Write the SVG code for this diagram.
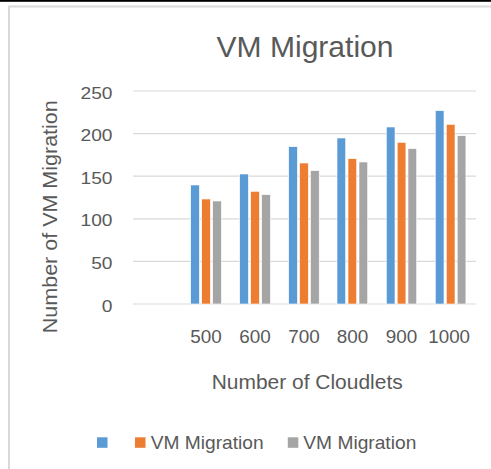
<svg xmlns="http://www.w3.org/2000/svg" width="491" height="469" viewBox="0 0 491 469">
<style>
text{font-family:"Liberation Sans",Arial,sans-serif;fill:#595959}
.grid{stroke:#D9D9D9;stroke-width:1.2}
.b{fill:#5B9BD5;stroke:#fff;stroke-width:0.6}
.o{fill:#ED7D31;stroke:#fff;stroke-width:0.6}
.g{fill:#A5A5A5;stroke:#fff;stroke-width:0.6}
.tick{font-size:16px;text-anchor:end}
.cat{font-size:18px;text-anchor:middle}
</style>
<rect x="0" y="0" width="491" height="469" fill="#fff"/>
<rect x="0" y="0" width="491" height="1.8" fill="#000"/>
<path d="M9 469V6.5H491" fill="none" stroke="#D9D9D9" stroke-width="2"/>
<text x="305" y="57" font-size="30" text-anchor="middle" textLength="177" lengthAdjust="spacingAndGlyphs">VM Migration</text>
<g id="gridlines">
<line class="grid" x1="133" y1="91" x2="476" y2="91"/>
<line class="grid" x1="133" y1="133.6" x2="476" y2="133.6"/>
<line class="grid" x1="133" y1="176.2" x2="476" y2="176.2"/>
<line class="grid" x1="133" y1="218.8" x2="476" y2="218.8"/>
<line class="grid" x1="133" y1="261.4" x2="476" y2="261.4"/>
<line class="grid" x1="133" y1="304" x2="476" y2="304"/>
</g>
<g id="y-ticks">
<text class="tick" x="112.5" y="98.5" textLength="32" lengthAdjust="spacingAndGlyphs">250</text>
<text class="tick" x="112.5" y="141.1" textLength="32" lengthAdjust="spacingAndGlyphs">200</text>
<text class="tick" x="112.5" y="183.7" textLength="32" lengthAdjust="spacingAndGlyphs">150</text>
<text class="tick" x="112.5" y="226.3" textLength="32" lengthAdjust="spacingAndGlyphs">100</text>
<text class="tick" x="112.5" y="268.9" textLength="21.3" lengthAdjust="spacingAndGlyphs">50</text>
<text class="tick" x="112.5" y="311.5" textLength="10.7" lengthAdjust="spacingAndGlyphs">0</text>
</g>
<g id="bars">
<rect class="b" x="190.7" y="185" width="8.7" height="119"/>
<rect class="o" x="201.7" y="199" width="8.7" height="105"/>
<rect class="g" x="212.7" y="201" width="8.7" height="103"/>
<rect class="b" x="239.7" y="174" width="8.7" height="130"/>
<rect class="o" x="250.7" y="191.3" width="8.7" height="112.7"/>
<rect class="g" x="261.7" y="194.7" width="8.7" height="109.3"/>
<rect class="b" x="288.7" y="146.7" width="8.7" height="157.3"/>
<rect class="o" x="299.6" y="163" width="8.7" height="141"/>
<rect class="g" x="310.5" y="170.7" width="8.7" height="133.3"/>
<rect class="b" x="337" y="138" width="8.7" height="166"/>
<rect class="o" x="348" y="158.7" width="8.7" height="145.3"/>
<rect class="g" x="359" y="162" width="8.7" height="142"/>
<rect class="b" x="386.3" y="127" width="8.7" height="177"/>
<rect class="o" x="397.2" y="142.3" width="8.7" height="161.7"/>
<rect class="g" x="408" y="148.7" width="8.7" height="155.3"/>
<rect class="b" x="435.3" y="110.7" width="8.7" height="193.3"/>
<rect class="o" x="446.3" y="124.3" width="8.7" height="179.7"/>
<rect class="g" x="457.2" y="135.7" width="8.7" height="168.3"/>
</g>
<g id="x-labels">
<text class="cat" x="206" y="343.3" textLength="31.5" lengthAdjust="spacingAndGlyphs">500</text>
<text class="cat" x="255" y="343.3" textLength="31.5" lengthAdjust="spacingAndGlyphs">600</text>
<text class="cat" x="304" y="343.3" textLength="31.5" lengthAdjust="spacingAndGlyphs">700</text>
<text class="cat" x="352.5" y="343.3" textLength="31.5" lengthAdjust="spacingAndGlyphs">800</text>
<text class="cat" x="401.5" y="343.3" textLength="31.5" lengthAdjust="spacingAndGlyphs">900</text>
<text class="cat" x="449.2" y="343.3" textLength="41.7" lengthAdjust="spacingAndGlyphs">1000</text>
</g>
<text x="307.2" y="388.5" font-size="20" text-anchor="middle" textLength="191" lengthAdjust="spacingAndGlyphs">Number of Cloudlets</text>
<text transform="translate(57,216.7) rotate(-90)" font-size="20" text-anchor="middle" textLength="233" lengthAdjust="spacingAndGlyphs">Number of VM Migration</text>
<g id="legend">
<rect x="97" y="437.3" width="10.5" height="10.5" fill="#5B9BD5"/>
<rect x="135" y="437.3" width="10.5" height="10.5" fill="#ED7D31"/>
<text x="150.7" y="449" font-size="19" textLength="113" lengthAdjust="spacingAndGlyphs">VM Migration</text>
<rect x="287.8" y="437.3" width="10.5" height="10.5" fill="#A5A5A5"/>
<text x="303.3" y="449" font-size="19" textLength="113" lengthAdjust="spacingAndGlyphs">VM Migration</text>
</g>
</svg>
